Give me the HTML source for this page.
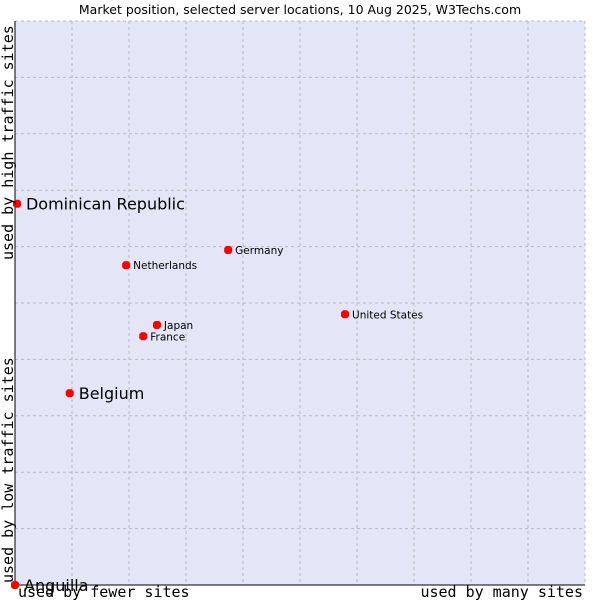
<!DOCTYPE html>
<html><head><meta charset="utf-8"><style>
body{margin:0;background:#fff}
svg text{font-family:"DejaVu Sans","Liberation Sans",sans-serif;fill:#000}
.mono{font-family:"DejaVu Sans Mono","Liberation Mono",monospace}
</style></head><body>
<svg width="600" height="600" xmlns="http://www.w3.org/2000/svg">
<text x="300" y="14" text-anchor="middle" font-size="12.5">Market position, selected server locations, 10 Aug 2025, W3Techs.com</text>
<rect x="15" y="21" width="570" height="564" fill="#e4e6f8"/>
<g id="grid"></g>
<line x1="15" y1="21" x2="15" y2="585" stroke="#000"/>
<line x1="15" y1="585" x2="585" y2="585" stroke="#000"/>
<g id="pts"></g>
<text class="mono" x="18" y="597" font-size="15">used by fewer sites</text>
<text class="mono" x="583" y="597" font-size="15" text-anchor="end">used by many sites</text>
<text class="mono" transform="translate(13,583) rotate(-90)" font-size="15">used by low traffic sites</text>
<text class="mono" transform="translate(13,260) rotate(-90)" font-size="15">used by high traffic sites</text>
</svg>
<script>
const names=["Dominican Republic","Belgium","Anguilla","Netherlands","Germany","United States","Japan","France"];
const xs=[0.35,9.6,0,19.5,37.4,57.9,24.9,22.5];
const ys=[67.6,34.0,0,56.7,59.4,48.0,46.1,44.1];
const big=[1,1,1,0,0,0,0,0];
const NS="http://www.w3.org/2000/svg";
const X=v=>15+v*5.7, Y=v=>585-v*5.64;
const g=document.getElementById('grid');
for(let i=1;i<10;i++){
 const a=document.createElementNS(NS,'line');
 a.setAttribute('x1',X(i*10));a.setAttribute('x2',X(i*10));a.setAttribute('y1',21);a.setAttribute('y2',585);
 a.setAttribute('stroke','#bbb');a.setAttribute('stroke-dasharray','3,3');
 
 
 g.appendChild(a);
}
for(let i=1;i<=10;i++){
 const a=document.createElementNS(NS,'line');
 a.setAttribute('y1',Y(i*10));a.setAttribute('y2',Y(i*10));a.setAttribute('x1',15);a.setAttribute('x2',585);
 a.setAttribute('stroke','#bbb');a.setAttribute('stroke-dasharray','3,3');
 
 
 g.appendChild(a);
}
const a2=document.createElementNS(NS,'line');
a2.setAttribute('x1',585);a2.setAttribute('x2',585);a2.setAttribute('y1',21);a2.setAttribute('y2',585);
a2.setAttribute('stroke','#bbb');a2.setAttribute('stroke-dasharray','3,3');


g.appendChild(a2);
const p=document.getElementById('pts');
names.forEach((n,i)=>{
 const cx=X(xs[i]),cy=Y(ys[i]);
 const d=document.createElementNS(NS,'path');
 d.setAttribute('d',`M${cx-4} ${cy-2}L${cx-2} ${cy-4}L${cx+2} ${cy-4}L${cx+4} ${cy-2}L${cx+4} ${cy+2}L${cx+2} ${cy+4}L${cx-2} ${cy+4}L${cx-4} ${cy+2}Z`);
 d.setAttribute('fill','#f00');
 
 
 p.appendChild(d);
 const t=document.createElementNS(NS,'text');
 t.setAttribute('x',cx+(big[i]?9:7));t.setAttribute('y',cy+(big[i]?6:4));
 t.setAttribute('font-size',big[i]?16:10.5);
 t.textContent=n;
 
 
 p.appendChild(t);
});
</script>
</body></html>
